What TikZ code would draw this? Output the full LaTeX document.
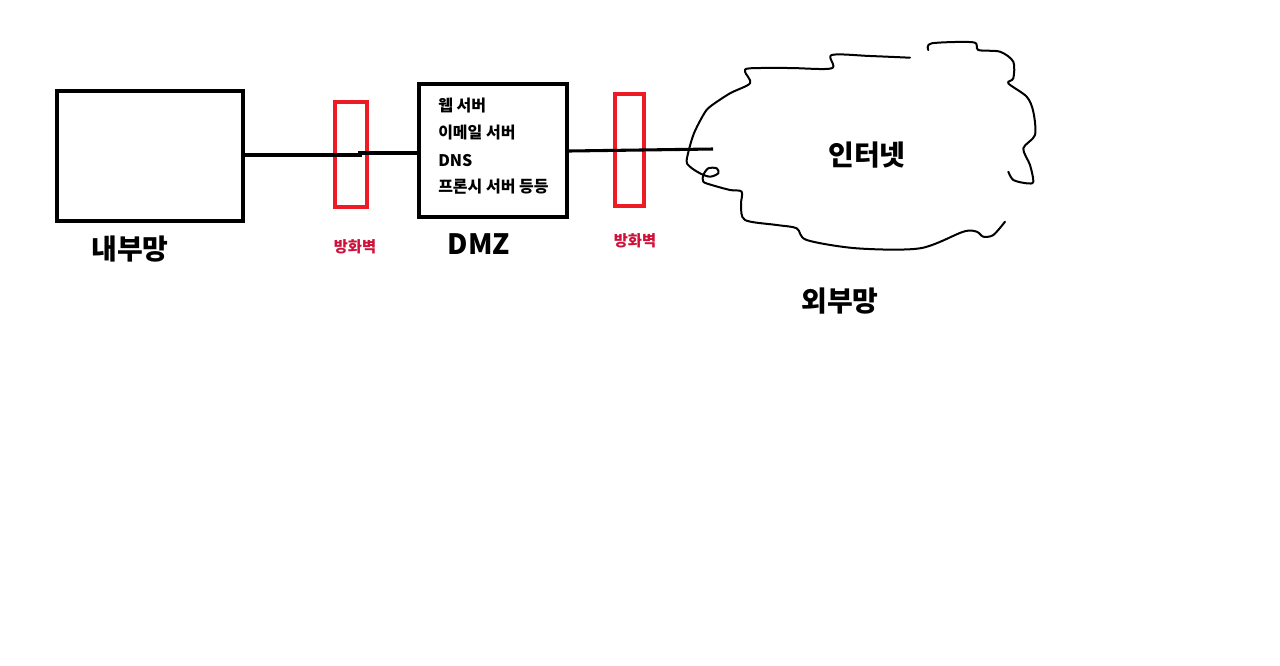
\documentclass[tikz,border=0pt]{standalone}
\usepackage{fontspec}
\setmainfont{Noto Sans CJK KR}
\begin{document}
\begin{tikzpicture}[x=0.75pt,y=-0.75pt,
  box/.style={draw=black,line width=3pt,inner sep=0pt},
  fw/.style={draw=fwred,line width=2.6pt,inner sep=0pt},
  link/.style={draw=black,line width=2.3pt},
  cloudline/.style={draw=black,line width=1.5pt,line cap=round,line join=round},
  biglabel/.style={font=\fontsize{21}{24}\selectfont\bfseries},
  fwlabel/.style={text=fwlabelred,font=\fontsize{11.5}{13}\selectfont\bfseries},
  dmztext/.style={anchor=west,font=\fontsize{12}{14}\selectfont\bfseries,inner sep=0pt}]
\definecolor{fwred}{RGB}{237,28,36}
\definecolor{fwlabelred}{RGB}{208,16,56}
\useasboundingbox (0,0) rectangle (1280,665);
\fill[white] (0,0) rectangle (1280,665);
% inner network
\node[box,minimum width=139.5pt,minimum height=97.5pt] (inner) at (150,156) {};
\node[biglabel] (innerlbl) at (130,249) {내부망};
% firewall 1
\node[fw,minimum width=24pt,minimum height=78.75pt] (fw1) at (351,154.5) {};
\node[fwlabel] (fw1lbl) at (355,247) {방화벽};
% DMZ
\node[box,minimum width=111pt,minimum height=99.75pt] (dmz) at (493,150.5) {};
\node[biglabel] (dmzlbl) at (479,244) {DMZ};
\node[dmztext] (t1) at (438,106) {웹 서버};
\node[dmztext] (t2) at (438,133) {이메일 서버};
\node[dmztext] (t3) at (438,161) {DNS};
\node[dmztext] (t4) at (438,187) {프론시 서버 등등};
% firewall 2
\node[fw,minimum width=21.75pt,minimum height=84pt] (fw2) at (629.5,150) {};
\node[fwlabel] (fw2lbl) at (635,241) {방화벽};
% internet cloud
\coordinate (cloudin) at (713,149);
\draw[cloudline] plot[smooth,tension=0.5] coordinates {(910,57.7) (870,56) (831.7,55) (831.7,68.3) (790,68) (750,68.3) (745,71.7) (750,83.3) (730,93.3) (710,106.7) (703.3,115) (693.3,135) (686.7,160) (690,166.7) (700,173.3) (710,176.7) (718.3,173.3) (716.7,168.3) (708.3,168.3) (703.3,175) (703.3,181.7) (711.7,185) (730,190) (741.7,191.7) (741,205) (745,220) (776.7,225) (796.7,228.3) (806.7,240) (856.7,248.3) (920,248.3) (963.3,231.7) (976.7,231.7) (983.3,236.7) (993.3,235) (1005,221.7)};
\draw[cloudline] plot[smooth,tension=0.5] coordinates {(928.3,50) (931.7,43.3) (973.3,42.3) (978.3,50) (1000,51.7) (1013.3,61.7) (1013.3,78.3) (1008.3,83.3) (1026.7,96.7) (1033.3,111.7) (1035,135) (1023.3,148.3) (1030,165) (1033.3,181.7) (1026.7,183.3) (1013.3,180) (1008.3,171.7)};
\node[biglabel] (net) at (867,155) {인터넷};
\node[biglabel] (outerlbl) at (840,301) {외부망};
% connectors
\coordinate (step1) at (360,155);
\coordinate (step2) at (360,153);
\draw[link] (inner.east |- step1) -- (step1) -- (step2) -- (dmz.west |- step2);
\coordinate (dmzout) at (567,151);
\draw[link] (dmz.east |- dmzout) -- (cloudin);
\end{tikzpicture}
\end{document}
